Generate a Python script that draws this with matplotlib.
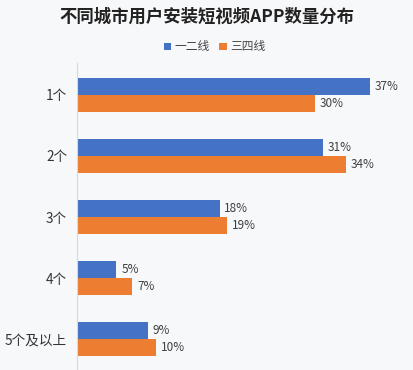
import matplotlib.pyplot as plt
import numpy as np

plt.rcParams['font.family'] = ['Noto Sans CJK SC', 'DejaVu Sans']

# 数据
categorias = ['1个', '2个', '3个', '4个', '5个及以上']
tier12 = [37, 31, 18, 5, 9]
tier34 = [30, 34, 19, 7, 10]
series = ['一二线', '三四线']
colores = ['#4472C4', '#ED7D31']
fondo = '#F7F8FA'

fig = plt.figure(figsize=(4.13, 3.7), dpi=100, facecolor=fondo)
ax = fig.add_axes([0.186, 0.0, 0.814, 0.83], facecolor=fondo)

y = np.arange(len(categorias))
h = 0.277
b1 = ax.barh(y - h / 2, tier12, height=h, color=colores[0], label=series[0])
b2 = ax.barh(y + h / 2, tier34, height=h, color=colores[1], label=series[1])

for barras in (b1, b2):
    for rect in barras:
        w = rect.get_width()
        ax.text(w + 0.6, rect.get_y() + rect.get_height() / 2, f'{w:.0f}%',
                ha='left', va='center', fontsize=8.5, color='#404040')

ax.set_xlim(0, 42.4)
ax.set_ylim(4.5, -0.52)
ax.set_yticks(y)
ax.set_yticklabels(categorias, fontsize=9.8, color='#333333')
ax.tick_params(axis='y', length=0, pad=7)
ax.set_xticks([])
for lado in ['top', 'right', 'bottom']:
    ax.spines[lado].set_visible(False)
ax.spines['left'].set_color('#D9D9D9')
ax.spines['left'].set_linewidth(0.8)

fig.text(0.5, 0.955, '不同城市用户安装短视频APP数量分布', ha='center', va='center',
         fontsize=12.5, fontweight='bold', color='#222222')
fig.legend(handles=[b1, b2], labels=series, loc='center', bbox_to_anchor=(0.52, 0.873),
           ncol=2, frameon=False, fontsize=8.5, handlelength=0.6, handleheight=0.6,
           handletextpad=0.3, columnspacing=0.8, labelcolor='#444444')

plt.savefig('out.png', dpi=100, facecolor=fondo)
plt.close(fig)
